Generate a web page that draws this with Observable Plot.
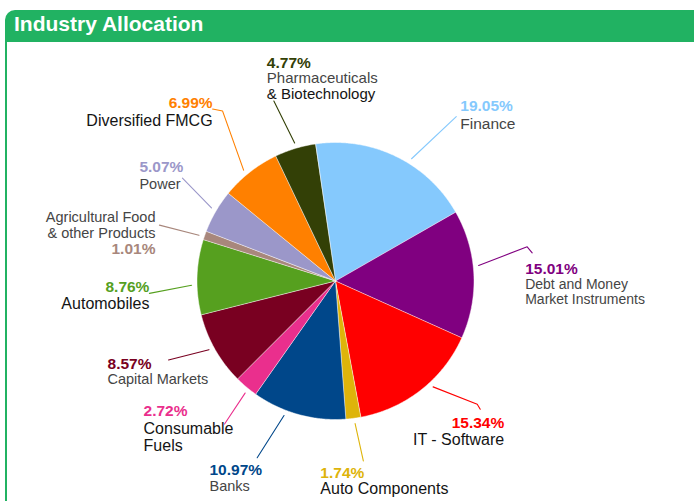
<!DOCTYPE html>
<html><head><meta charset="utf-8">
<script src="https://cdn.jsdelivr.net/npm/d3@7"></script>
<script src="https://cdn.jsdelivr.net/npm/@observablehq/plot@0.6"></script>
<style>
html,body{margin:0;padding:0;background:#fff;width:694px;height:501px;overflow:hidden;font-family:Arial,"Liberation Sans",sans-serif;}
#header{position:absolute;left:5px;top:10px;width:720px;height:32px;background:#21b262;border-top-left-radius:10px;color:#fff;font-weight:bold;font-size:21px;line-height:28px;padding-left:9px;box-sizing:border-box;}
#frame{position:absolute;left:5px;top:42px;width:720px;height:480px;border-left:2px solid #21b262;}
#chart{position:absolute;left:0;top:42px;}
</style></head>
<body>
<div id="header">Industry Allocation</div>
<div id="frame"></div>
<div id="chart"></div>
<script>
// ---- data ----
const categories = ["Finance","Debt and Money Market Instruments","IT - Software","Auto Components","Banks","Consumable Fuels","Capital Markets","Automobiles","Agricultural Food & other Products","Power","Diversified FMCG","Pharmaceuticals & Biotechnology"];
const shares = [19.05,15.01,15.34,1.74,10.97,2.72,8.57,8.76,1.01,5.07,6.99,4.77];
const nameLines = [["Finance"],["Debt and Money","Market Instruments"],["IT - Software"],["Auto Components"],["Banks"],["Consumable","Fuels"],["Capital Markets"],["Automobiles"],["Agricultural Food","& other Products"],["Power"],["Diversified FMCG"],["Pharmaceuticals","& Biotechnology"]];
const colors = ["#85c9fd","#800080","#ff0000","#deb40a","#00478a","#ea2f8d","#790021","#56a01f","#a8877c","#9b97c9","#ff8000","#334006"];

// ---- layout (label placement around the pie) ----
const cx = 335, cy = 280.5, R = 138.5, startDeg = -8.4;
const labelLayout = [
  {tick:6,   out:[36.3,204],   hook:null,   anchor:"start", dx:4,     pctDy:-6,   lines:[12],        size:15.5, tone:["g"]},
  {tick:-3.4,out:[79.9,194.7], hook:[5,6],  anchor:"start", dx:-7,    pctDy:21,   lines:[36.3,51.3], size:14,   tone:["g","g"]},
  {tick:-4.5,out:[131,187.8],  hook:[3,5],  anchor:"end",   dx:24,    pctDy:19,   lines:[36],        size:16,   tone:["d"]},
  {tick:-0.4,out:[171.2,182],  hook:null,   anchor:"start", dx:-43,   pctDy:16.7, lines:[33],        size:16,   tone:["d"]},
  {tick:5.5, out:[203.9,193.3],hook:null,   anchor:"start", dx:-47.7, pctDy:17.3, lines:[33.3],      size:14.5, tone:["g"]},
  {tick:-1.2,out:[217.8,181],  hook:null,   anchor:"start", dx:-81,   pctDy:-8,   lines:[9.7,27],    size:16,   tone:["d","d"]},
  {tick:1.1, out:[244.7,184.7],hook:null,   anchor:"start", dx:-61,   pctDy:9,    lines:[24],        size:14.5, tone:["g"]},
  {tick:-3.3,out:[266.2,186.5],hook:null,   anchor:"end",   dx:0,     pctDy:-1,   lines:[16],        size:16,   tone:["d"]},
  {tick:-0.7,out:[287.6,184.7],hook:null,   anchor:"end",   dx:-4,    pctDy:29,   lines:[-3,13],     size:14.5, tone:["g","g"]},
  {tick:0.4, out:[303.9,184.4],hook:null,   anchor:"start", dx:-43,   pctDy:-6,   lines:[11],        size:14.5, tone:["g"]},
  {tick:-1.5,out:[326.4,204],  hook:[-10,-2],anchor:"end",  dx:0,     pctDy:-1,   lines:[17],        size:16,   tone:["d"]},
  {tick:0.5, out:[341.1,190.3],hook:null,   anchor:"start", dx:-7,    pctDy:-33.3,lines:[-18.3,-1.7],size:15,   tone:["g","d"]}
];
const toneColor = {g:"#454545", d:"#141414"};
const pctSize = 15.5;

// ---- derived geometry ----
const total = d3.sum(shares);
const pt = (deg, r) => [cx + r*Math.sin(deg*Math.PI/180), cy - r*Math.cos(deg*Math.PI/180)];
let acc = 0;
const slices = categories.map((c, i) => {
  const a0 = startDeg + acc/total*360; acc += shares[i];
  const a1 = startDeg + acc/total*360;
  return {c, i, a0, a1, mid:(a0+a1)/2};
});
const slicePts = slices.flatMap(s => {
  const pts = [{c:s.c, x:cx, y:cy}];
  const n = Math.max(2, Math.ceil((s.a1 - s.a0)/0.5));
  for (let k = 0; k <= n; k++) { const [x,y] = pt(s.a0 + (s.a1 - s.a0)*k/n, R); pts.push({c:s.c, x, y}); }
  return pts;
});
const tickPts = [], pctRows = [], nameRows = [];
slices.forEach((s, i) => {
  const L = labelLayout[i];
  const [x0,y0] = pt(s.mid + L.tick, R + 5.5);
  let [x1,y1] = pt(L.out[0], L.out[1]);
  tickPts.push({c:s.c, x:x0, y:y0}, {c:s.c, x:x1, y:y1});
  if (L.hook) { x1 += L.hook[0]; y1 += L.hook[1]; tickPts.push({c:s.c, x:x1, y:y1}); }
  const tx = x1 + L.dx;
  pctRows.push({c:s.c, anchor:L.anchor, x:tx, y:y1 + L.pctDy - 0.32*pctSize, text:shares[i].toFixed(2) + "%"});
  nameLines[i].forEach((t, k) => nameRows.push({anchor:L.anchor, tone:L.tone[k], size:L.size, x:tx, y:y1 + L.lines[k] - 0.32*L.size, text:t}));
});

const textMarks = [];
for (const anchor of ["start","end"]) {
  textMarks.push(Plot.text(pctRows.filter(d => d.anchor === anchor), {x:"x", y:"y", text:"text", fill:"c", fontSize:pctSize, fontWeight:"bold", textAnchor:anchor}));
  for (const tone of ["g","d"]) {
    const rows = nameRows.filter(d => d.anchor === anchor && d.tone === tone);
    textMarks.push(Plot.text(rows, {x:"x", y:"y", text:"text", fill:toneColor[tone], fontSize:d => d.size, textAnchor:anchor}));
  }
}

const chart = Plot.plot({
  width:694, height:459, margin:0,
  style:{background:"transparent", overflow:"visible", fontFamily:"Arial, 'Liberation Sans', sans-serif"},
  x:{domain:[0,694], range:[0,694], axis:null},
  y:{domain:[42,501], range:[0,459], axis:null},
  color:{domain:categories, range:colors},
  marks:[
    Plot.line(slicePts, {x:"x", y:"y", z:"c", fill:"c", stroke:"#ffffff", strokeWidth:0.6, strokeOpacity:0.8, curve:"linear-closed"}),
    Plot.line(tickPts, {x:"x", y:"y", z:"c", stroke:"c", strokeWidth:1.1}),
    ...textMarks
  ]
});
document.getElementById("chart").appendChild(chart);
</script>
</body></html>
